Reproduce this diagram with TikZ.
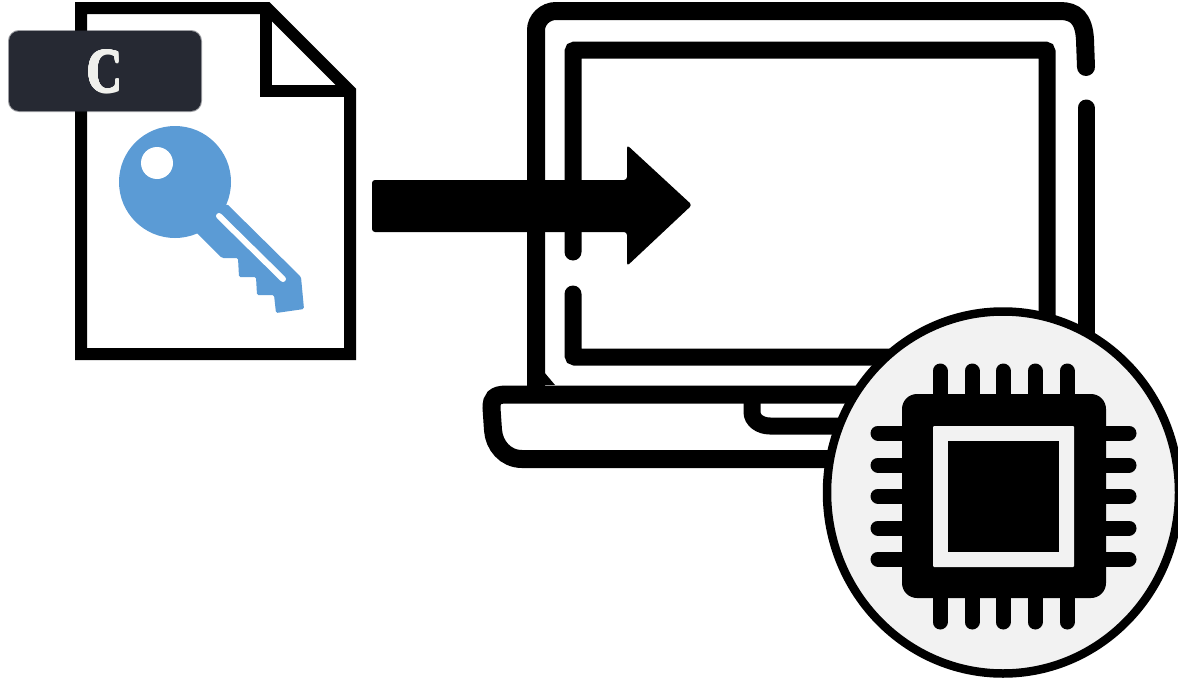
\documentclass[tikz,border=0pt]{standalone}
\usepackage{fontspec}
\usepackage[copies]{contour}
\contourlength{0.9pt}
\newfontfamily\badgefont{Liberation Serif}
\definecolor{badgedark}{RGB}{38,41,51}
\definecolor{badgetext}{RGB}{240,240,236}
\definecolor{keyblue}{RGB}{91,155,213}
\definecolor{chipbg}{RGB}{242,242,242}
\tikzset{
    fileline/.style={draw=black, line width=12pt, miter limit=10},
    laptopline/.style={draw=black, line width=17pt, line cap=round},
    chippin/.style={draw=black, line width=15pt, line cap=round}
}

\begin{document}
\begin{tikzpicture}[x=1pt, y=-1pt]
    \path[use as bounding box, clip] (0,0) rectangle (1178,680);

    % File
    \fill[white] (0,0) rectangle (1178,680);
    \draw[fileline] (81,8) -- (267,8) -- (350,91) -- (350,354) -- (81,354) -- cycle;
    \draw[fileline] (266,8) -- (266,91) -- (350,91);

    % Badge
    \filldraw[fill=badgedark, draw=badgedark, draw opacity=0.45, line width=2pt, rounded corners=10pt] (9,31) rectangle (201,111);
    \node[font=\fontsize{63}{63}\selectfont\badgefont\bfseries, text=badgetext, inner sep=0pt] (badge) at (105,72) {\scalebox{0.78}[1]{\contour{badgetext}{C}}};

    % Key
    \fill[keyblue, rounded corners=1.5pt] (227,204) -- (301,277) -- (304,309) -- (276,313) -- (274,295) -- (257,295)
        -- (256,277) -- (239,277) -- (238,258) -- (222,258) -- (190,226) -- cycle;
    \fill[keyblue] (175,182) circle (56);
    \fill[white] (157,163) circle (16);
    \draw[white, line width=6pt, line cap=round] (219,216) -- (283,279);

    % Laptop lid
    \draw[laptopline, line width=18pt] (536,390) -- (536,30) .. controls (536,20) and (545,11) .. (556,11) -- (1060,11)
        .. controls (1075,11) and (1084,18) .. (1085,40) -- (1086,67);
    \draw[laptopline] (1086,108) -- (1086,345);
    \fill[black] (544,372) -- (555,385) -- (544,385) -- cycle;

    % Screen
    \draw[laptopline, rounded corners=2pt] (573,252) -- (573,50) -- (1047,50) -- (1047,357) -- (573,357) -- (573,294);

    % Laptop base
    \draw[draw=black, line width=18pt] (880,394.5) -- (505,394.5) .. controls (495,395) and (491.5,398) .. (491.5,408)
        -- (493,430) .. controls (494,445) and (505,459) .. (522,459) -- (880,459);
    \draw[draw=black, line width=17pt] (752,400) -- (752,412) .. controls (752,420) and (760,426) .. (770,426) -- (880,426);

    % Arrow
    \fill[black, rounded corners=3pt] (372,180) -- (627,180) -- (627,145) -- (692,205) -- (627,266) -- (627,232) -- (372,232) -- cycle;

    % Chip circle
    \filldraw[fill=chipbg, draw=black, line width=8.5pt] (1003,492.5) ellipse [x radius=176pt, y radius=181pt];

    % Chip
    \foreach \x in {940,972,1003,1035,1067} {
        \draw[chippin] (\x,371) -- (\x,622);
    }
    \foreach \y in {433,465,496,528,559} {
        \draw[chippin] (878,\y) -- (1129,\y);
    }
    \fill[black, rounded corners=15pt] (902,394) rectangle (1106,598);
    \fill[chipbg, rounded corners=1pt] (933,426) rectangle (1074,567);
    \fill[black] (948,441) rectangle (1059,552);
\end{tikzpicture}
\end{document}
